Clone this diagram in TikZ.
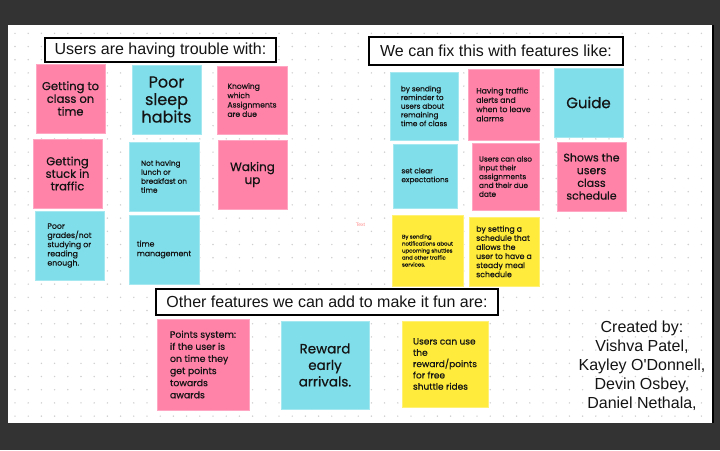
\documentclass[tikz,border=0pt]{standalone}
\usepackage{fontspec}
\setmainfont{Liberation Sans}
\newfontfamily\nf{Poppins}[FakeBold=0.5]
\definecolor{frame}{HTML}{333333}
\definecolor{dotc}{HTML}{CFCFCF}
\definecolor{npink}{HTML}{FF82A9}
\definecolor{ncyan}{HTML}{80DEEA}
\definecolor{nyellow}{HTML}{FFEB3B}
\definecolor{ink}{HTML}{141414}
\definecolor{tinyred}{HTML}{FF8A8A}
\newcommand{\fs}[2]{\nf\fontsize{#1}{#2}\selectfont}
\tikzset{
  note/.style={rectangle, inner sep=0pt, text=ink, align=center},
  lnote/.style={align=left},
  pinknote/.style={note, fill=npink, draw=npink!70!white, line width=0.6pt},
  cyannote/.style={note, fill=ncyan, draw=ncyan!70!white, line width=0.6pt},
  yellownote/.style={note, fill=nyellow, draw=nyellow!70!white, line width=0.6pt},
  heading/.style={rectangle, draw=black, fill=white, line width=2.2pt, inner sep=0pt,
    text=ink, font=\fontsize{16}{19}\selectfont},
  credit/.style={align=center, text=ink, font=\fontsize{16}{19}\selectfont}
}
\begin{document}
\begin{tikzpicture}[x=1pt,y=-1pt]
\useasboundingbox (0,0) rectangle (720,450);
% dark surround and white board
\fill[frame] (0,0) rectangle (720,450);
\fill[white] (8,25) rectangle (712,423);
\draw[black, line width=2pt] (713,25) -- (713,423);
% dotted board grid
\foreach \i in {0,...,52} {
  \foreach \j in {0,...,29} {
    \fill[dotc] (15+13.2*\i, 33.3+13.2*\j) circle (0.8pt);
  }
}

% ---- problems ----
\node[heading, minimum width=231pt, minimum height=24pt] (h1) at (160.5,50) {Users are having trouble with:};

\node[pinknote, minimum width=69pt, minimum height=69pt, font=\fs{11.5}{12.7}] (p1) at (70.5,98.5)
  {Getting to\\class on\\time};
\node[cyannote, minimum width=69pt, minimum height=69pt, font=\fs{16}{17.5}] (p2) at (166.5,99.5)
  {Poor\\sleep\\habits};
\node[pinknote, lnote, minimum width=70pt, minimum height=68pt, font=\fs{7.6}{9.3}] (p3) at (252,100)
  {Knowing\\which\\Assignments\\are due};
\node[pinknote, minimum width=69pt, minimum height=69pt, font=\fs{11.5}{12.5}] (p4) at (67.5,173.5)
  {Getting\\stuck in\\traffic};
\node[cyannote, lnote, minimum width=70pt, minimum height=69pt, font=\fs{7.3}{9}] (p5) at (164,176.5)
  {Not having\\lunch or\\breakfast on\\time};
\node[pinknote, minimum width=69pt, minimum height=69pt, font=\fs{12}{13}] (p6) at (252.5,174.5)
  {Waking\\up};
\node[cyannote, lnote, minimum width=69pt, minimum height=69pt, font=\fs{7.8}{9.2}] (p7) at (69.5,245.5)
  {Poor\\grades/not\\studying or\\reading\\enough.};
\node[cyannote, lnote, minimum width=70pt, minimum height=69pt, font=\fs{7.8}{9.6}] (p8) at (164,249.5)
  {time\\management};

% stray text box on the board
\node[text=tinyred, font=\fontsize{5}{6}\selectfont, inner sep=0pt] (t0) at (360.5,225) {Text};

% ---- fixes ----
\node[heading, minimum width=254pt, minimum height=28pt] (h2) at (496,51) {We can fix this with features like:};

\node[cyannote, lnote, minimum width=68pt, minimum height=68pt, font=\fs{7.3}{8.7}] (f1) at (424,106)
  {by sending\\reminder to\\users about\\remaining\\time of class};
\node[pinknote, lnote, minimum width=71pt, minimum height=71pt, font=\fs{7.8}{9.3}] (f2) at (503.5,104.5)
  {Having traffic\\alerts and\\when to leave\\alarms};
\node[cyannote, minimum width=69pt, minimum height=69pt, font=\fs{15}{17}] (f3) at (588.5,102.5)
  {Guide};
\node[cyannote, lnote, minimum width=64pt, minimum height=64pt, font=\fs{7.3}{8.8}] (f4) at (425,176)
  {set clear\\expectations};
\node[pinknote, lnote, minimum width=67pt, minimum height=67pt, font=\fs{7.3}{8.8}] (f5) at (505.5,176.5)
  {Users can also\\input their\\assignments\\and their due\\date};
\node[pinknote, minimum width=69pt, minimum height=69pt, font=\fs{11}{12.7}] (f6) at (591.5,176.5)
  {Shows the\\users\\class\\schedule};
\node[yellownote, lnote, minimum width=71pt, minimum height=71pt, font=\fs{5.4}{7}] (f7) at (427.5,250.5)
  {By sending\\notifications about\\upcoming shuttles\\and other traffic\\services.};
\node[yellownote, lnote, minimum width=70pt, minimum height=69pt, font=\fs{7.8}{9.1}] (f8) at (504,251.5)
  {by setting a\\schedule that\\allows the\\user to have a\\steady meal\\schedule};

% ---- extras ----
\node[heading, minimum width=342pt, minimum height=26pt] (h3) at (327,302) {Other features we can add to make it fun are:};

\node[pinknote, lnote, minimum width=92pt, minimum height=91pt, font=\fs{9.3}{12.1}] (e1) at (203,364.5)
  {Points system:\\if the user is\\on time they\\get points\\towards\\awards};
\node[cyannote, minimum width=88pt, minimum height=88pt, font=\fs{13.5}{16.5}] (e2) at (325,365)
  {Reward\\early\\arrivals.};
\node[yellownote, lnote, minimum width=86pt, minimum height=86pt, font=\fs{9}{11.3}] (e3) at (445,364)
  {Users can use\\the\\reward/points\\for free\\shuttle rides};

% ---- authors ----
\node[credit] (c1) at (642,365.5) {Created by:\\Vishva Patel,\\Kayley O\textquotesingle Donnell,\\Devin Osbey,\\Daniel Nethala,};
\end{tikzpicture}
\end{document}
